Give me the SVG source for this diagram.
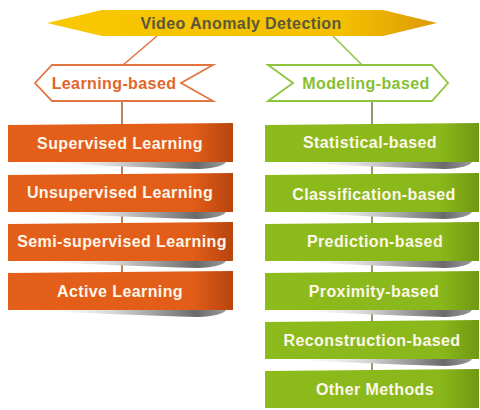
<svg xmlns="http://www.w3.org/2000/svg" width="480" height="410" viewBox="0 0 480 410">
<defs>
<linearGradient id="gBanner" x1="0" y1="0" x2="1" y2="0">
<stop offset="0" stop-color="#f8c800"/>
<stop offset="0.75" stop-color="#f5c000"/>
<stop offset="1" stop-color="#dc9a05"/>
</linearGradient>
<linearGradient id="gOrange" x1="0" y1="0" x2="1" y2="0">
<stop offset="0" stop-color="#e4601a"/>
<stop offset="0.82" stop-color="#e15d18"/>
<stop offset="1" stop-color="#b8440f"/>
</linearGradient>
<linearGradient id="gGreen" x1="0" y1="0" x2="1" y2="0">
<stop offset="0" stop-color="#8dbb1c"/>
<stop offset="0.82" stop-color="#8ab81b"/>
<stop offset="1" stop-color="#709812"/>
</linearGradient>
<linearGradient id="gShadow" x1="0" y1="0" x2="1" y2="0">
<stop offset="0" stop-color="#ffffff" stop-opacity="0"/>
<stop offset="0.45" stop-color="#d4d4d4"/>
<stop offset="0.85" stop-color="#6a6a6a"/>
<stop offset="1" stop-color="#9a9a9a"/>
</linearGradient>
</defs>
<style>
.t{font-family:"Liberation Sans",Arial,sans-serif;font-weight:bold;text-anchor:middle}
.box{font-size:16px;letter-spacing:0.4px;fill:#fdf6ea}
.hd{font-size:16px;letter-spacing:0.4px}
.conO{stroke:#e2753f;stroke-width:1.6;fill:none}
.conG{stroke:#8cc43c;stroke-width:1.6;fill:none}
.vO{stroke:#a05a2a;stroke-width:1.5}
.vG{stroke:#6c7a40;stroke-width:1.5}
.sh{fill:url(#gShadow)}
</style>
<g id="connectors">
<line class="conO" x1="157" y1="36" x2="123" y2="65"/>
<line class="conG" x1="333" y1="36" x2="362" y2="65"/>
<line class="vO" x1="122" y1="101" x2="122" y2="275"/>
<line class="vG" x1="372" y1="101" x2="372" y2="373"/>
</g>
<g id="root">
<path d="M47,23 L102,10 L383,10 L437,23 L383,36 L102,36 Z" fill="url(#gBanner)"/>
<text class="t hd" x="241" y="28.5" fill="#5a583c">Video Anomaly Detection</text>
</g>
<g id="learning-based">
<path d="M35,83 L52,65 L213,65 L181,83 L213,101 L52,101 Z" fill="#ffffff" stroke="#e2753f" stroke-width="1.8"/>
<text class="t hd" x="114" y="89" fill="#e2652c">Learning-based</text>
</g>
<g id="modeling-based">
<path d="M268,65 L432,65 L448,83 L432,101 L268,101 L293,83 Z" fill="#ffffff" stroke="#8cc43c" stroke-width="1.8"/>
<text class="t hd" x="366" y="89" fill="#86c032">Modeling-based</text>
</g>
<g id="supervised">
<path class="sh" d="M25,162 L226,162 Q222,168 198,169 Q120,167 25,162 Z"/>
<path d="M8,125 L233,123 L233,162 L8,162 Z" fill="url(#gOrange)"/>
<text class="t box" x="120" y="149">Supervised Learning</text>
</g>
<g id="unsupervised">
<path class="sh" d="M25,212 L226,212 Q222,218 198,219 Q120,217 25,212 Z"/>
<path d="M8,175 L233,173 L233,212 L8,212 Z" fill="url(#gOrange)"/>
<text class="t box" x="120" y="198">Unsupervised Learning</text>
</g>
<g id="semi-supervised">
<path class="sh" d="M25,261 L226,261 Q222,267 198,268 Q120,266 25,261 Z"/>
<path d="M8,224 L233,222 L233,261 L8,261 Z" fill="url(#gOrange)"/>
<text class="t box" x="122" y="247">Semi-supervised Learning</text>
</g>
<g id="active">
<path class="sh" d="M25,310 L226,310 Q222,316 198,317 Q120,315 25,310 Z"/>
<path d="M8,273 L233,271 L233,310 L8,310 Z" fill="url(#gOrange)"/>
<text class="t box" x="120" y="297">Active Learning</text>
</g>
<g id="statistical">
<path class="sh" d="M282,162 L472,162 Q468,168 445,169 Q370,167 282,162 Z"/>
<path d="M265,125 L479,123 L479,162 L265,162 Z" fill="url(#gGreen)"/>
<text class="t box" x="370" y="148">Statistical-based</text>
</g>
<g id="classification">
<path class="sh" d="M282,212 L472,212 Q468,218 445,219 Q370,217 282,212 Z"/>
<path d="M265,175 L479,173 L479,212 L265,212 Z" fill="url(#gGreen)"/>
<text class="t box" x="374" y="200">Classification-based</text>
</g>
<g id="prediction">
<path class="sh" d="M282,261 L472,261 Q468,267 445,268 Q370,266 282,261 Z"/>
<path d="M265,224 L479,222 L479,261 L265,261 Z" fill="url(#gGreen)"/>
<text class="t box" x="375" y="247">Prediction-based</text>
</g>
<g id="proximity">
<path class="sh" d="M282,310 L472,310 Q468,316 445,317 Q370,315 282,310 Z"/>
<path d="M265,273 L479,271 L479,310 L265,310 Z" fill="url(#gGreen)"/>
<text class="t box" x="374" y="297">Proximity-based</text>
</g>
<g id="reconstruction">
<path class="sh" d="M282,359 L472,359 Q468,365 445,366 Q370,364 282,359 Z"/>
<path d="M265,322 L479,320 L479,359 L265,359 Z" fill="url(#gGreen)"/>
<text class="t box" x="372" y="346">Reconstruction-based</text>
</g>
<g id="other">
<path d="M265,371 L479,369 L479,408 L265,408 Z" fill="url(#gGreen)"/>
<text class="t box" x="375" y="395">Other Methods</text>
</g>
</svg>
